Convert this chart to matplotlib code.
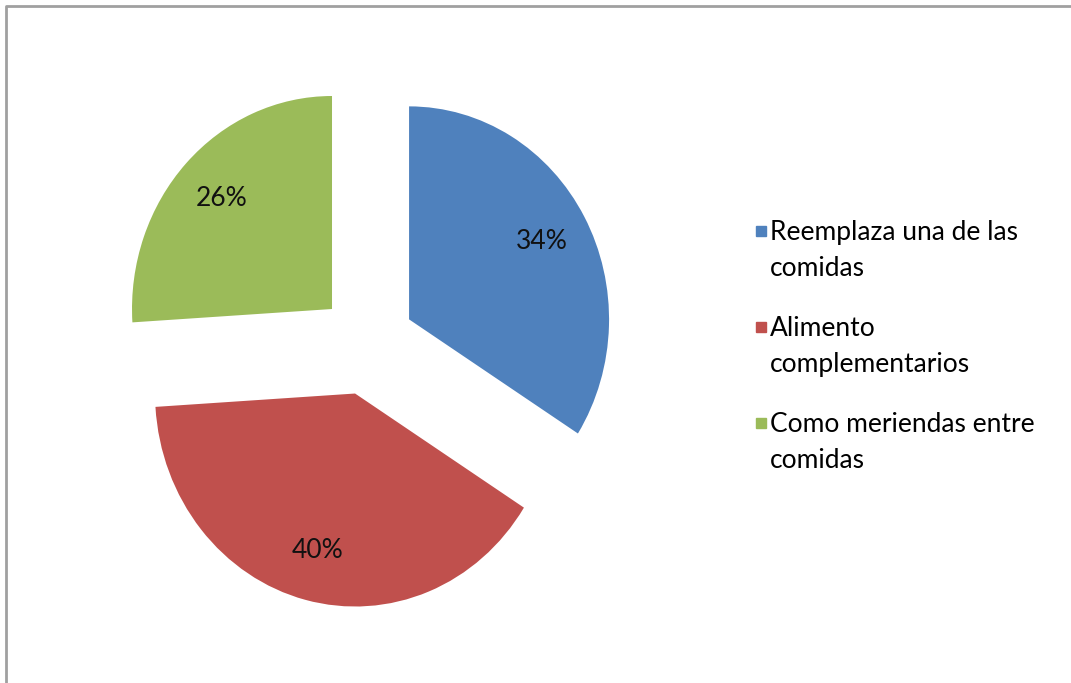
import matplotlib.pyplot as plt
from matplotlib.patches import Rectangle
from matplotlib.lines import Line2D

labels = ["Reemplaza una de las\ncomidas", "Alimento\ncomplementarios", "Como meriendas entre\ncomidas"]
values = [34, 40, 26]
colors = ["#4F81BD", "#C0504D", "#9BBB59"]

W, H = 1071, 683
fig = plt.figure(figsize=(W / 100, H / 100), dpi=100)
fig.patch.set_facecolor("white")

# pie axes: centre at (367, 344) px, radius ~200 px across, ~213 px tall
cx, cy, side = 367, 344, 560
ax = fig.add_axes([(cx - side / 2) / W, 1 - (cy + side / 2) / H, side / W, side / H])
wedges, texts, autotexts = ax.pie(values, colors=colors, startangle=90, counterclock=False,
                                  explode=[0.24] * 3, autopct="%d%%", pctdistance=0.76,
                                  wedgeprops=dict(linewidth=0))
for t in autotexts:
    t.set_fontsize(19)
    t.set_fontfamily("Lato")
    t.set_color("#111111")
ax.set_xlim(-side / 400, side / 400)
ax.set_ylim(-side / 426, side / 426)
ax.set_aspect("auto")
ax.axis("off")

# legend drawn by hand so the square sits on the first line
ytops = [231, 327, 423]
for lab, col, yc in zip(labels, colors, ytops):
    fig.patches.append(Rectangle((756 / W, 1 - (yc + 5) / H), 10 / W, 10 / H,
                                 transform=fig.transFigure, color=col))
    fig.text(770 / W, 1 - (yc - 11) / H, lab, fontsize=19, family="Lato",
             va="top", ha="left", linespacing=1.55, color="black")

# outer frame (only top and left edges fall inside the image)
fig.lines.append(Line2D([6 / W, 6 / W, 1], [0, 1 - 6 / H, 1 - 6 / H],
                        transform=fig.transFigure, color="#a0a0a0", linewidth=2))

fig.savefig("out.png", dpi=100)
